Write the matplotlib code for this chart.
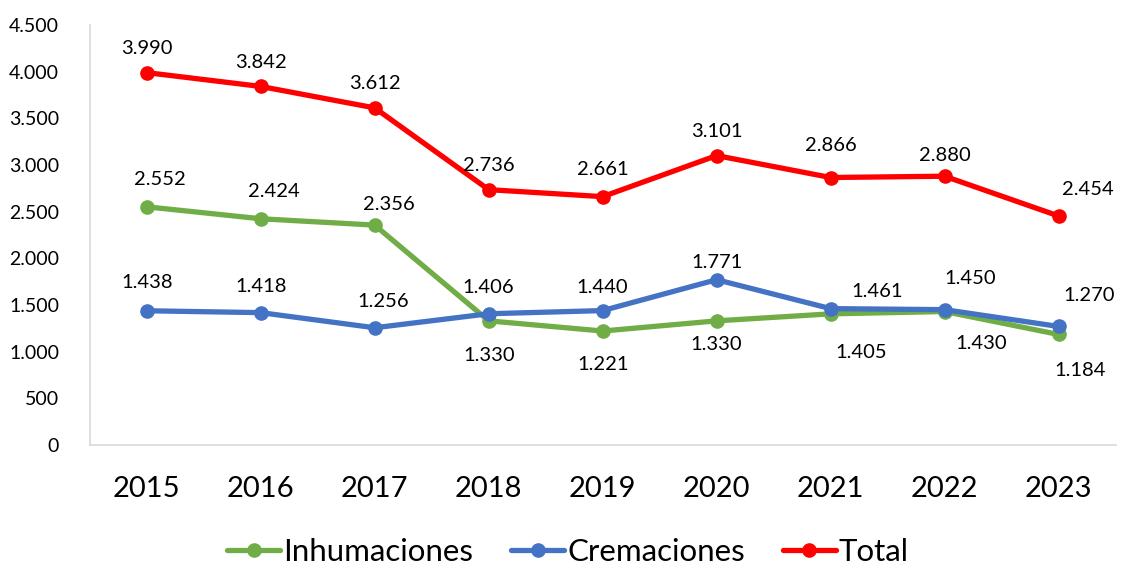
import matplotlib.pyplot as plt
from matplotlib.ticker import FuncFormatter

years = ["2015", "2016", "2017", "2018", "2019", "2020", "2021", "2022", "2023"]
inhumaciones = [2552, 2424, 2356, 1330, 1221, 1330, 1405, 1430, 1184]
cremaciones = [1438, 1418, 1256, 1406, 1440, 1771, 1461, 1450, 1270]
total = [3990, 3842, 3612, 2736, 2661, 3101, 2866, 2880, 2454]

# label offsets in pixels (dx, dy up) as placed in the original
off_inh = [(13, 27), (13, 27), (14, 21), (1, -35), (0, -33), (0, -24), (31, -39), (37, -32), (22, -36)]
off_cre = [(0, 28), (0, 26), (8, 26), (0, 26), (0, 23), (0, 17), (47, 17), (26, 31), (31, 31)]
off_tot = [(0, 24), (0, 24), (0, 24), (0, 24), (0, 27), (0, 24), (0, 32), (0, 21), (29, 26)]

plt.rcParams['font.family'] = ['Lato', 'DejaVu Sans']

fig = plt.figure(figsize=(11.36, 5.69), dpi=100)
ax = fig.add_axes([0.079, 0.218, 0.903, 0.738])

series = [
    ("Inhumaciones", inhumaciones, "#70AD47", off_inh),
    ("Cremaciones", cremaciones, "#4472C4", off_cre),
    ("Total", total, "#FF0000", off_tot),
]
x = range(len(years))
for name, vals, col, offs in series:
    ax.plot(x, vals, color=col, lw=3.8, marker='o', ms=9.5, label=name,
            solid_capstyle='round')
    for i, v in enumerate(vals):
        dx, dy = offs[i]
        ax.annotate(f"{v:,}".replace(",", "."), (i, v),
                    xytext=(dx * 0.72, dy * 0.72), textcoords='offset points',
                    ha='center', va='center', fontsize=14.5, color='#000000')

ax.set_xlim(-0.5, 8.5)
ax.set_ylim(0, 4500)
ax.set_yticks(range(0, 4501, 500))
ax.yaxis.set_major_formatter(FuncFormatter(lambda v, p: f"{int(v):,}".replace(",", ".")))
ax.set_xticks(list(x))
ax.set_xticklabels(years)
ax.tick_params(axis='y', length=0, labelsize=14, pad=22)
ax.tick_params(axis='x', length=0, labelsize=21, pad=22)
for s in ['top', 'right']:
    ax.spines[s].set_visible(False)
for s in ['left', 'bottom']:
    ax.spines[s].set_color('#D9D9D9')
    ax.spines[s].set_linewidth(1.2)

handles, labels = ax.get_legend_handles_labels()
fig.legend(handles, labels, loc='center', bbox_to_anchor=(0.5, 0.03), ncol=3,
           frameon=False, fontsize=22.5, handlelength=1.7, handletextpad=0.1,
           columnspacing=1.2, borderaxespad=0, borderpad=0)

fig.savefig("out.png", dpi=100)
